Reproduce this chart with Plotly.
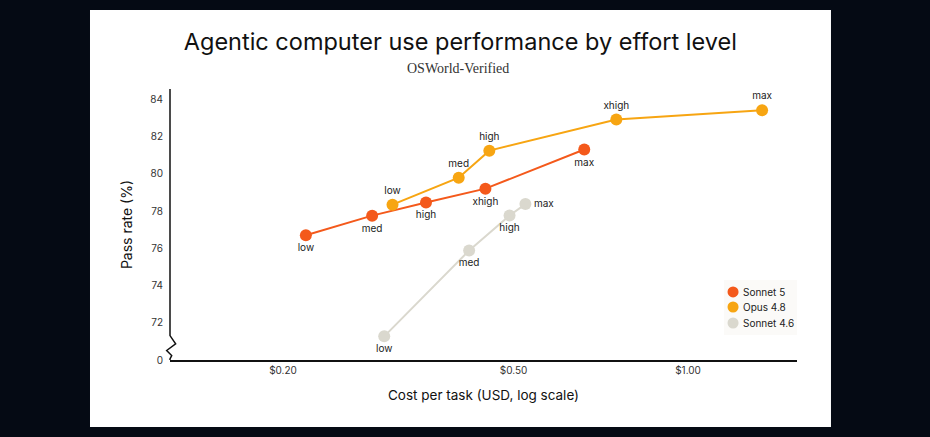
import plotly.graph_objects as go

# values
levels_s5 = ["low", "med", "high", "xhigh", "max"]
cost_s5 = [0.219, 0.285, 0.353, 0.447, 0.662]
pass_s5 = [76.70, 77.75, 78.46, 79.20, 81.30]

levels_o48 = ["low", "med", "high", "xhigh", "max"]
cost_o48 = [0.309, 0.402, 0.454, 0.752, 1.342]
pass_o48 = [78.34, 79.79, 81.24, 82.91, 83.41]

levels_s46 = ["low", "med", "high", "max"]
cost_s46 = [0.299, 0.419, 0.492, 0.524]
pass_s46 = [71.27, 75.88, 77.76, 78.37]

x_ticks = [0.2, 0.5, 1.0]
x_ticktext = ["$0.20", "$0.50", "$1.00"]
y_ticks = [70, 72, 74, 76, 78, 80, 82, 84]
y_ticktext = ["0", "72", "74", "76", "78", "80", "82", "84"]

FONT = "Inter"
BG = "#050a14"
C_S5 = "#F4591B"
C_O48 = "#F7A512"
C_S46 = "#DAD8CE"

series = [
    ("Sonnet 5", cost_s5, pass_s5, levels_s5, C_S5, "bottom center"),
    ("Opus 4.8", cost_o48, pass_o48, levels_o48, C_O48, "top center"),
    ("Sonnet 4.6", cost_s46, pass_s46, levels_s46, C_S46,
     ["bottom center", "bottom center", "bottom center", "middle right"]),
]

fig = go.Figure()
for name, xs, ys, labels, col, pos in series:
    fig.add_trace(go.Scatter(
        x=xs, y=ys, text=labels, name=name, showlegend=False,
        mode="lines+markers+text", textposition=pos,
        line=dict(color=col, width=2), marker=dict(color=col, size=12),
        textfont=dict(size=10, color="#222", family=FONT),
    ))

# white card behind the chart
fig.add_shape(type="rect", xref="paper", yref="paper", layer="below",
              x0=-0.1276, x1=1.0542, y0=-0.247, y1=1.2915,
              fillcolor="white", line=dict(width=0))
# y axis line with a break
fig.add_shape(type="path", xref="paper", yref="y",
              path="M 0,84.55 L 0,71.31 L 0.009,70.87 L -0.0053,70.51 L 0.0027,70.24 L 0,70.06 L 0,70",
              line=dict(color="#111", width=1.5))

# compact legend: dots + names in a faint box
fig.add_shape(type="rect", xref="paper", yref="paper", layer="below",
              x0=0.8836, x1=1.0, y0=0.092, y1=0.295,
              fillcolor="#fbfaf8", line=dict(width=0))
legend_y = [0.251, 0.1956, 0.1365]
annotations = []
for (name, xs, ys, labels, col, pos), ly in zip(series, legend_y):
    fig.add_shape(type="circle", xref="paper", yref="paper",
                  x0=0.898 - 0.0088, x1=0.898 + 0.0088, y0=ly - 0.0203, y1=ly + 0.0203,
                  fillcolor=col, line=dict(width=0))
    annotations.append(dict(text=name, xref="paper", yref="paper", x=0.911, y=ly,
                            xanchor="left", yanchor="middle", showarrow=False,
                            font=dict(size=10, color="#222", family=FONT)))

annotations.append(dict(text="OSWorld-Verified", xref="paper", yref="paper",
                        x=0.46, y=1.077, xanchor="center", yanchor="middle", showarrow=False,
                        font=dict(size=14, color="#333", family="Liberation Serif")))

fig.update_layout(
    width=930, height=437,
    margin=dict(l=170, r=133, t=89, b=77),
    paper_bgcolor=BG, plot_bgcolor="white",
    font=dict(family=FONT, color="#222"),
    title=dict(text="Agentic computer use performance by effort level",
               x=0.495, xanchor="center", y=0.905, yanchor="middle",
               font=dict(size=23.5, color="#111", family=FONT)),
    showlegend=False,
    xaxis=dict(type="log", range=[-0.894, 0.188], tickvals=x_ticks, ticktext=x_ticktext,
               showgrid=False, zeroline=False, showline=True, linecolor="#111", linewidth=1.5,
               ticks="", tickfont=dict(size=10, color="#333"),
               title=dict(text="Cost per task (USD, log scale)", standoff=16,
                          font=dict(size=13.5, color="#111"))),
    yaxis=dict(range=[70, 84.55], tickvals=y_ticks, ticktext=y_ticktext,
               showgrid=False, zeroline=False, showline=False,
               ticks="", ticklabelstandoff=6, tickfont=dict(size=10, color="#333"),
               title=dict(text="Pass rate (%)", standoff=14,
                          font=dict(size=14, color="#111"))),
    annotations=annotations,
)

fig.write_html("out.html", config={"displayModeBar": False},
               post_script="document.body.style.margin='0';document.body.style.background='%s';" % BG)
